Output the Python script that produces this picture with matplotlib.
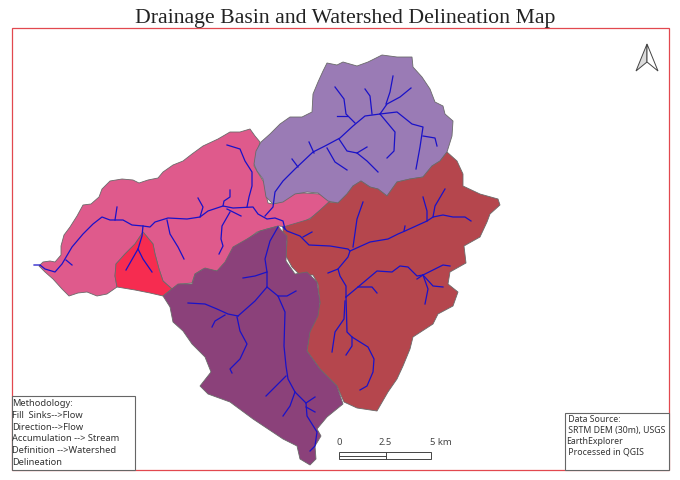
import matplotlib
matplotlib.use("Agg")
import matplotlib.pyplot as plt
from matplotlib.patches import Polygon, Rectangle

# ---- map data (map-sheet coordinates, y grows southward) ----
basin_pink = [(39,267),(43,263),(50,262),(55,263),(61,256),(61,247),(64,236),(70,228),(77,217),(83,206),(91,205),(99,198),(102,190),(110,182),(122,180),(133,181),(139,184),(148,181),(158,179),(163,173),(173,166),(183,162),(192,155),(203,147),(218,140),(230,133),(240,133),(250,130),(255,137),(260,143),(257,155),(254,167),(260,177),(265,185),(266,195),(268,204),(273,205),(283,202),(290,195),(303,194),(320,195),(330,202),(322,210),(312,218),(302,224),(287,228),(279,227),(267,230),(257,233),(248,240),(238,247),(232,253),(227,265),(217,272),(203,270),(195,275),(192,284),(180,285),(172,290),(163,282),(159,270),(155,255),(153,245),(143,233),(135,245),(125,255),(116,265),(115,277),(117,288),(107,295),(97,297),(87,293),(78,294),(69,297),(62,290),(53,280),(45,273)]
basin_red = [(143,233),(153,245),(155,255),(159,270),(163,282),(172,290),(163,297),(150,294),(135,291),(117,288),(115,277),(116,265),(125,255),(135,245)]
basin_purple = [(327,64),(337,66),(343,63),(357,67),(368,63),(382,56),(397,58),(412,58),(413,68),(422,78),(430,90),(435,103),(443,107),(445,115),(453,122),(452,137),(447,153),(440,162),(432,167),(423,178),(410,180),(397,183),(387,197),(378,190),(370,188),(361,182),(353,187),(347,195),(338,204),(328,202),(318,194),(307,193),(295,195),(283,203),(273,205),(266,198),(263,180),(257,172),(254,165),(256,152),(261,143),(270,135),(280,125),(290,118),(302,118),(312,113),(313,95),(318,83),(323,72)]
basin_brown = [(329,203),(338,204),(347,195),(353,187),(361,182),(370,188),(378,190),(387,197),(397,183),(410,180),(423,178),(432,167),(440,162),(447,153),(457,162),(463,175),(463,187),(480,195),(498,200),(500,206),(490,215),(487,223),(480,238),(464,247),(466,264),(450,273),(448,285),(458,293),(453,307),(438,315),(433,325),(413,338),(410,350),(403,367),(397,380),(388,393),(377,412),(357,409),(344,403),(337,387),(320,370),(307,352),(310,330),(315,317),(320,305),(318,285),(313,276),(300,276),(292,268),(286,257),(287,242),(283,233),(283,228),(310,220)]
basin_plum = [(278,227),(260,232),(247,240),(233,248),(225,263),(217,272),(205,269),(195,275),(192,285),(178,285),(163,297),(170,308),(173,323),(183,332),(192,345),(205,358),(211,373),(200,387),(208,395),(230,403),(253,420),(283,440),(297,447),(300,460),(310,466),(316,460),(315,447),(321,437),(317,430),(327,418),(343,405),(337,387),(320,370),(307,352),(310,333),(318,317),(320,303),(317,283),(307,273),(295,275),(286,262),(287,237),(282,232)]

streams_pink = [
    [(34,266),(40,266),(45,270),(55,273),(62,265),(72,248),(83,235),(93,225),(102,218),(110,221),(123,221),(132,226),(143,227),(150,228),(155,223),(168,219),(187,220),(200,218),(208,212),(223,207),(233,209),(253,208),(258,215),(267,220),(275,219),(283,222),(285,230)],
    [(66,261),(72,266)],
    [(117,208),(115,221)],
    [(143,227),(142,237),(138,250),(126,271)],
    [(138,250),(143,260),(152,273)],
    [(167,221),(170,235),(178,248),(184,260)],
    [(198,199),(203,208),(200,218)],
    [(223,207),(224,202),(230,198),(230,191)],
    [(227,210),(241,217)],
    [(230,213),(222,227),(221,240),(223,247),(219,255)],
    [(227,146),(240,150),(245,162),(252,173),(252,187),(249,198),(247,208)],
]
streams_purple = [
    [(265,217),(273,208),(275,193),(283,182),(295,170),(313,153),(325,147),(340,139),(353,127),(365,117),(380,115),(397,113),(412,125),(423,128),(420,148),(416,170)],
    [(292,160),(298,168)],
    [(309,143),(314,154)],
    [(327,149),(335,163),(347,171)],
    [(339,140),(347,152),(357,154),(367,162),(378,173)],
    [(357,154),(367,148)],
    [(380,115),(395,133),(394,152),(387,159)],
    [(335,88),(344,100),(346,115),(355,124)],
    [(337,117),(347,117)],
    [(365,90),(370,97),(372,115)],
    [(380,115),(387,105),(400,98),(411,89)],
    [(393,77),(390,93),(386,105)],
    [(423,137),(435,139),(437,147)],
]
streams_brown = [
    [(283,228),(287,232),(300,237),(309,246),(330,247),(348,250),(350,252),(370,243),(388,240),(398,235),(405,232),(427,222),(433,218),(443,216),(453,218),(465,218),(471,222)],
    [(363,203),(357,220),(353,248)],
    [(303,238),(312,233)],
    [(405,227),(404,232)],
    [(423,198),(427,212),(427,222)],
    [(445,190),(435,207),(433,218)],
    [(350,252),(348,258),(338,270),(340,277),(346,287),(346,298)],
    [(338,270),(328,274)],
    [(346,298),(358,288),(377,272),(392,273),(400,267),(408,268),(417,277),(423,276),(433,271),(443,266),(450,267)],
    [(358,288),(372,288),(377,294)],
    [(423,276),(428,290),(425,305)],
    [(423,276),(433,287),(443,288)],
    [(417,280),(423,276)],
    [(346,298),(347,333),(352,338),(368,348),(374,360),(373,373),(367,387),(360,391)],
    [(345,302),(344,320),(335,333),(332,353)],
    [(352,338),(352,347),(346,356)],
]
streams_plum = [
    [(278,228),(270,242),(265,260),(267,273),(267,288),(255,302),(238,317)],
    [(267,273),(255,277),(243,279)],
    [(267,288),(278,297),(285,313),(284,347),(286,367),(288,380),(295,393),(306,404),(307,417),(317,433),(315,447),(310,452)],
    [(278,297),(287,297),(296,292)],
    [(238,317),(228,315),(217,310),(205,305),(188,304)],
    [(225,316),(215,322),(212,328)],
    [(237,318),(240,332),(247,345),(240,360),(230,370),(232,374)],
    [(286,377),(275,388),(266,397)],
    [(295,393),(290,407),(283,417)],
    [(306,404),(315,398)],
    [(306,408),(315,413)],
]

title_text = "Drainage Basin and Watershed Delineation Map"
method_lines = ["Methodology:", "Fill  Sinks-->Flow", "Direction-->Flow",
                "Accumulation --> Stream", "Definition -->Watershed", "Delineation"]
source_lines = [" Data Source:", " SRTM DEM (30m), USGS", "EarthExplorer", " Processed in QGIS"]
scale_labels = ["0", "2.5", "5 km"]
basin_colors = ["#DF5A8C", "#F62C50", "#9A7BB5", "#B5464D", "#8B417A"]
stream_color = "#1A12C8"

fig = plt.figure(figsize=(6.8, 4.81), dpi=100)
ax = fig.add_axes([0, 0, 1, 1])
ax.set_xlim(0, 680); ax.set_ylim(481, 0); ax.axis("off")

for poly, col, z in zip([basin_pink, basin_red, basin_purple, basin_brown, basin_plum],
                        basin_colors, [2, 3, 2, 3, 3]):
    ax.add_patch(Polygon(poly, closed=True, facecolor=col, edgecolor="#6a6a6a", lw=0.6, zorder=z))

for group in [streams_pink, streams_purple, streams_brown, streams_plum]:
    for s in group:
        xs, ys = zip(*s)
        ax.plot(xs, ys, color=stream_color, lw=0.9, zorder=5, solid_joinstyle="round")

# neatline
ax.add_patch(Rectangle((12, 29), 657, 442, fill=False, edgecolor="#E2484F", lw=0.9, zorder=6))

ax.text(345, 18, title_text, family="Liberation Serif", fontsize=15.7,
        ha="center", va="center", color="#222222")

# text boxes
ax.add_patch(Rectangle((12, 397), 123, 74, facecolor="white", edgecolor="#666666", lw=0.8, zorder=7))
for i, line in enumerate(method_lines):
    ax.text(12.5, 403.5 + i*11.8, line, family="Noto Sans", fontsize=6.7, va="center",
            color="#333333", zorder=8)
ax.add_patch(Rectangle((565, 414), 104, 57, facecolor="white", edgecolor="#666666", lw=0.8, zorder=7))
for i, line in enumerate(source_lines):
    ax.text(566, 420 + i*10.7, line, family="Noto Sans", fontsize=6.3, va="center",
            color="#333333", zorder=8)

# scale bar
ax.add_patch(Rectangle((339, 453), 92, 7, fill=False, edgecolor="#444444", lw=0.7, zorder=7))
ax.plot([339, 385.5], [456.5, 456.5], color="#444444", lw=0.7, zorder=7)
ax.plot([385.5, 385.5], [453, 460], color="#444444", lw=0.7, zorder=7)
for x, lab, ha in zip([339, 385.5, 430], scale_labels, ["center", "center", "left"]):
    ax.text(x, 442.5, lab, family="Noto Sans", fontsize=6.8, ha=ha, va="center", color="#444444")

# north arrow
ax.add_patch(Polygon([(647, 45), (636, 72), (647, 63)], closed=True, facecolor="#dcdcdc",
                     edgecolor="#444444", lw=0.7, zorder=7))
ax.add_patch(Polygon([(647, 45), (658, 72), (647, 63)], closed=True, facecolor="white",
                     edgecolor="#444444", lw=0.7, zorder=7))

fig.savefig("out.png", dpi=100, facecolor="white")
